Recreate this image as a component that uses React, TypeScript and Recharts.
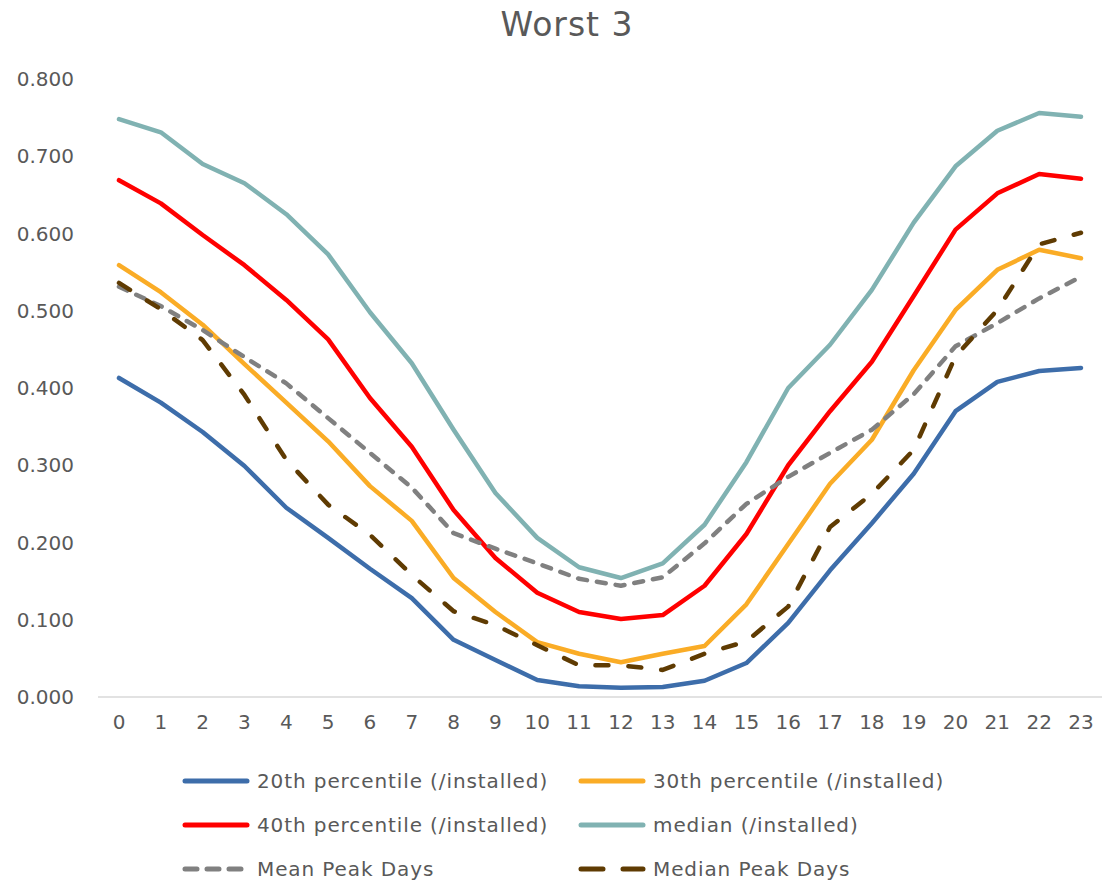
import { LineChart, Line, XAxis, YAxis, Legend } from "recharts";

const hours = [0, 1, 2, 3, 4, 5, 6, 7, 8, 9, 10, 11, 12, 13, 14, 15, 16, 17, 18, 19, 20, 21, 22, 23];

const p20 = [0.413, 0.381, 0.343, 0.299, 0.245, 0.206, 0.166, 0.128, 0.074, 0.048, 0.022, 0.014, 0.012, 0.013, 0.021, 0.044, 0.096, 0.164, 0.225, 0.289, 0.370, 0.408, 0.422, 0.426];
const p30 = [0.559, 0.524, 0.482, 0.431, 0.381, 0.331, 0.273, 0.228, 0.154, 0.110, 0.071, 0.056, 0.045, 0.056, 0.066, 0.120, 0.198, 0.276, 0.333, 0.423, 0.501, 0.553, 0.579, 0.568];
const p40 = [0.669, 0.639, 0.598, 0.559, 0.514, 0.463, 0.387, 0.324, 0.242, 0.180, 0.135, 0.110, 0.101, 0.106, 0.144, 0.211, 0.300, 0.370, 0.434, 0.519, 0.605, 0.652, 0.677, 0.671];
const median = [0.748, 0.731, 0.690, 0.665, 0.625, 0.573, 0.498, 0.432, 0.346, 0.264, 0.206, 0.168, 0.154, 0.173, 0.223, 0.304, 0.400, 0.456, 0.527, 0.614, 0.687, 0.733, 0.756, 0.751];
const meanPeak = [0.531, 0.506, 0.475, 0.440, 0.406, 0.361, 0.316, 0.271, 0.212, 0.192, 0.173, 0.153, 0.144, 0.155, 0.199, 0.250, 0.285, 0.316, 0.346, 0.392, 0.454, 0.484, 0.516, 0.544];
const medianPeak = [0.536, 0.502, 0.462, 0.391, 0.307, 0.249, 0.210, 0.158, 0.111, 0.093, 0.067, 0.041, 0.041, 0.035, 0.056, 0.072, 0.117, 0.220, 0.263, 0.320, 0.441, 0.501, 0.586, 0.601];

const yTicks = [0, 0.1, 0.2, 0.3, 0.4, 0.5, 0.6, 0.7, 0.8];

const data = hours.map((h, i) => ({
  h,
  p20: p20[i],
  p30: p30[i],
  p40: p40[i],
  median: median[i],
  meanPeak: meanPeak[i],
  medianPeak: medianPeak[i],
}));

const series = [
  { key: "p20", name: "20th percentile (/installed)", color: "#3D6DAA", dash: undefined, legendDash: undefined },
  { key: "p30", name: "30th percentile (/installed)", color: "#FAAC26", dash: undefined, legendDash: undefined },
  { key: "p40", name: "40th percentile (/installed)", color: "#FF0000", dash: undefined, legendDash: undefined },
  { key: "median", name: "median (/installed)", color: "#80B2B2", dash: undefined, legendDash: undefined },
  { key: "meanPeak", name: "Mean Peak Days", color: "#808080", dash: "9 10", legendDash: "12 10" },
  { key: "medianPeak", name: "Median Peak Days", color: "#5F3B02", dash: "13 20", legendDash: "22 20" },
];

const FONT = "'DejaVu Sans', sans-serif";
const TEXT = "#595959";

function ChartLegend() {
  return (
    <div
      style={{
        height: 147,
        paddingTop: 22,
        paddingLeft: 182,
        boxSizing: "border-box",
        display: "grid",
        gridTemplateColumns: "396px 396px",
        gridAutoRows: "44px",
        fontFamily: FONT,
        fontSize: 20,
        letterSpacing: 0.9,
        color: TEXT,
        overflow: "visible",
      }}
    >
      {series.map((s) => (
        <div key={s.key} style={{ display: "flex", alignItems: "center", whiteSpace: "nowrap" }}>
          <svg width={68} height={10} style={{ marginRight: 7 }}>
            <line
              x1={3}
              y1={5}
              x2={65}
              y2={5}
              stroke={s.color}
              strokeWidth={5}
              strokeLinecap="round"
              strokeDasharray={s.legendDash}
            />
          </svg>
          <span>{s.name}</span>
        </div>
      ))}
    </div>
  );
}

export default function App() {
  return (
    <div style={{ position: "absolute", left: 0, top: 0, width: 1105, height: 884, background: "#fff" }}>
      <div
        style={{
          position: "absolute",
          left: 367,
          top: 4,
          width: 400,
          textAlign: "center",
          fontFamily: FONT,
          fontSize: 33,
          letterSpacing: 1,
          color: TEXT,
          lineHeight: "42px",
        }}
      >
        Worst 3
      </div>
      <LineChart width={1105} height={884} data={data} margin={{ top: 79, right: 3, bottom: 0, left: 0 }}>
        <XAxis
          dataKey="h"
          padding={{ left: 21, right: 21 }}
          height={40}
          axisLine={{ stroke: "#D9D9D9", strokeWidth: 1.5 }}
          tickLine={false}
          tickSize={0}
          tickMargin={18}
          interval={0}
          tick={{ fontSize: 20, fill: TEXT, fontFamily: FONT }}
        />
        <YAxis
          width={98}
          domain={[0, 0.8]}
          ticks={yTicks}
          axisLine={false}
          tickLine={false}
          tickSize={0}
          tickMargin={24}
          tickFormatter={(v: number) => v.toFixed(3)}
          tick={{ fontSize: 20, fill: TEXT, fontFamily: FONT }}
        />
        <Legend verticalAlign="bottom" content={() => <ChartLegend />} />
        {series.map((s) => (
          <Line
            key={s.key}
            dataKey={s.key}
            name={s.name}
            type="linear"
            stroke={s.color}
            strokeWidth={4.5}
            strokeDasharray={s.dash}
            strokeLinecap="round"
            strokeLinejoin="round"
            dot={false}
            activeDot={false}
            isAnimationActive={false}
          />
        ))}
      </LineChart>
    </div>
  );
}
